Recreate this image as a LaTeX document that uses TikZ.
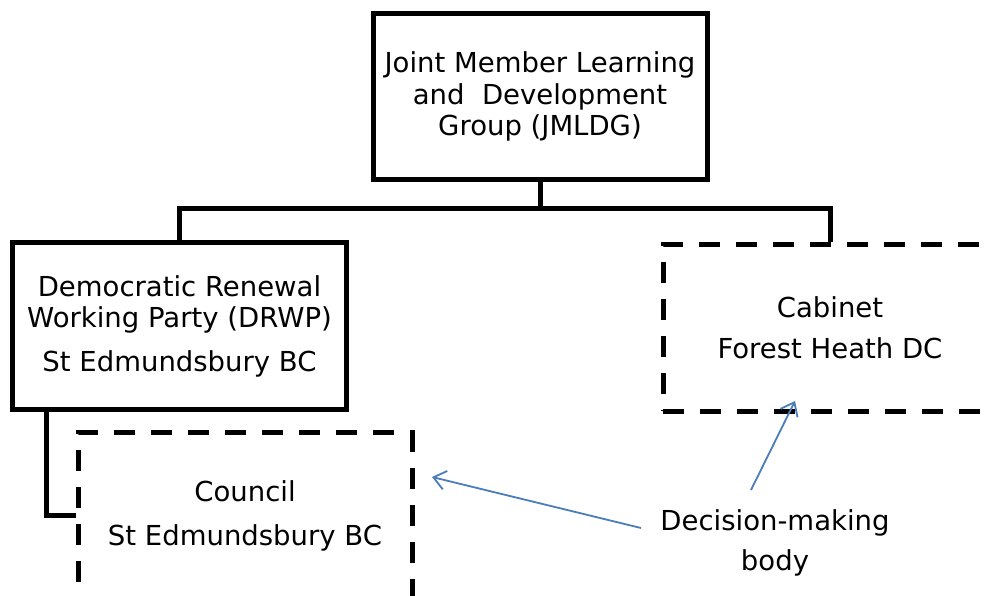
\documentclass[tikz,border=0pt]{standalone}
\usepackage{fontspec}
\setmainfont{DejaVu Sans}
\usetikzlibrary{arrows.meta,calc}
\begin{document}
\begin{tikzpicture}[x=1pt,y=-1pt,
  box/.style={draw=black,line width=5pt,minimum width=334pt,minimum height=166pt,
    align=center,inner sep=0pt,font=\fontsize{27.5}{31.5}\selectfont},
  dbox/.style={box,dash pattern=on 21pt off 16pt},
  plain/.style={align=center,inner sep=2pt,font=\fontsize{27.5}{31.5}\selectfont},
  conn/.style={line width=5pt,line join=miter},
  pointer/.style={draw={rgb,255:red,74;green,126;blue,187},line width=1.8pt,
    -{Straight Barb[length=12pt,width=19pt,line width=1.8pt]}}]
\useasboundingbox (0,0) rectangle (989,596);
\clip (0,0) rectangle (989,596);
\fill[white] (0,0) rectangle (989,596);

\node[box] (top) at (540,96.5) {Joint Member Learning\\and\ \ Development\\Group (JMLDG)};
\node[box] (drwp) at (179.5,326) {Democratic Renewal\\Working Party (DRWP)\\[12pt]St Edmundsbury BC};
\node[dbox] (cab) at (830,328) {Cabinet\\[9.5pt]Forest Heath DC};
\node[dbox] (council) at (245,515.5) {Council\\[12.5pt]St Edmundsbury BC};
\node[plain] (dec) at (775,543) {Decision-making\\[8.5pt]body};

\coordinate (bus) at (540,209);
\draw[conn] (top.south) -- (top.south |- bus);
\draw[conn] (drwp.north) |- (bus) -| (cab.north);
\coordinate (drop) at (46.5,409);
\draw[conn] (drop) |- (council.west);

\coordinate (a1s) at (641,528);
\coordinate (a1e) at (432,477);
\coordinate (a2s) at (751,490);
\coordinate (a2e) at (795,401);
\draw[pointer] (a1s) -- (a1e);
\draw[pointer] (a2s) -- (a2e);
\end{tikzpicture}
\end{document}
